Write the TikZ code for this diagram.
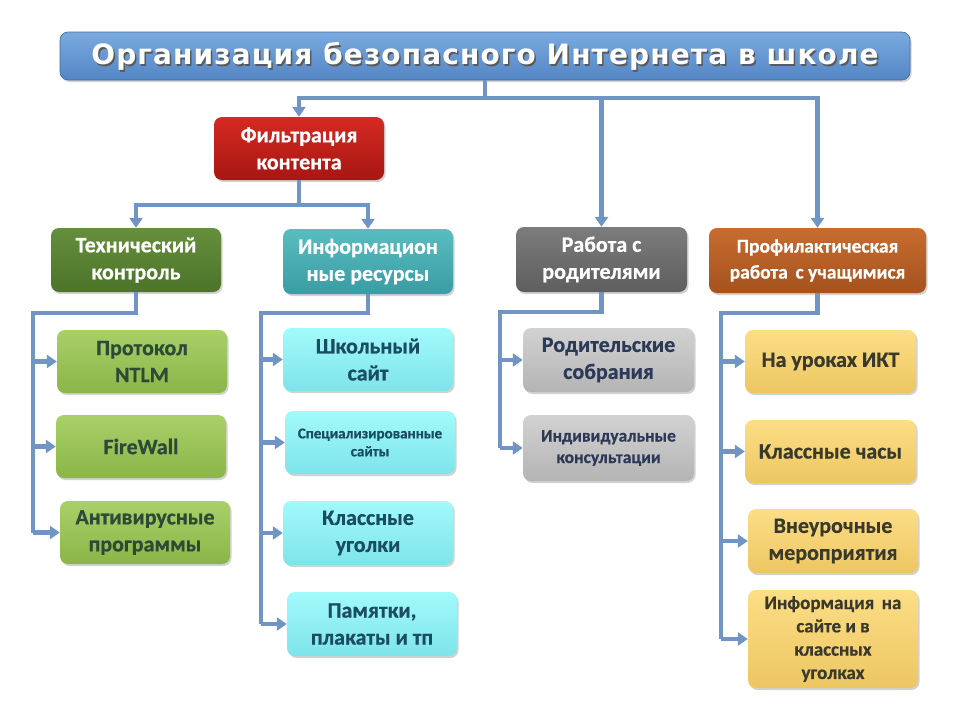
\documentclass[tikz,border=0pt]{standalone}
\usepackage{fontspec}
\setmainfont{Carlito}[BoldFeatures={FakeBold=0.6}]
\newfontfamily\titlefont{DejaVu Sans}[LetterSpace=4]
\usetikzlibrary{arrows.meta,shadows}
\definecolor{lineblue}{HTML}{7094C4}
\definecolor{titletop}{HTML}{7BAAE0}
\definecolor{titlebot}{HTML}{5486C4}
\definecolor{redtop}{HTML}{D42A22}
\definecolor{redbot}{HTML}{A81612}
\definecolor{gtop}{HTML}{658F3C}
\definecolor{gbot}{HTML}{4C742A}
\definecolor{ttop}{HTML}{58BDC0}
\definecolor{tbot}{HTML}{3A9CA4}
\definecolor{grtop}{HTML}{7C7C7C}
\definecolor{grbot}{HTML}{5E5E5E}
\definecolor{otop}{HTML}{C86C30}
\definecolor{obot}{HTML}{A5521E}
\definecolor{lgtop}{HTML}{A8D068}
\definecolor{lgbot}{HTML}{8BB548}
\definecolor{lctop}{HTML}{A2FAFA}
\definecolor{lcbot}{HTML}{7EE4EA}
\definecolor{lytop}{HTML}{FCDE86}
\definecolor{lybot}{HTML}{EDC662}
\definecolor{lgrtop}{HTML}{D2D2D2}
\definecolor{lgrbot}{HTML}{B4B4B4}
\definecolor{tgreen}{HTML}{2C4A38}
\definecolor{tteal}{HTML}{1A4C62}
\definecolor{tgray}{HTML}{2C3A58}
\definecolor{tyel}{HTML}{3A3A2C}
\tikzset{
  conn/.style={draw=lineblue, line width=4.5pt},
  arr/.style={conn, -{Triangle[length=10pt,width=13pt]}},
  box/.style={rounded corners=8pt, align=center, inner sep=2pt,
    font=\bfseries, shading angle=0,
    drop shadow={opacity=0.35, shadow xshift=1.5pt, shadow yshift=-2pt}},
  hbox/.style={box, text=white, font=\bfseries\fontsize{22}{27}\selectfont},
  cbox/.style={box, font=\bfseries\fontsize{22}{27}\selectfont},
  greenc/.style={cbox, bottom color=lgbot, top color=lgtop, text=tgreen},
  cyanc/.style={cbox, bottom color=lcbot, top color=lctop, text=tteal},
  grayc/.style={cbox, bottom color=lgrbot, top color=lgrtop, text=tgray},
  yelc/.style={cbox, bottom color=lybot, top color=lytop, text=tyel},
}
\begin{document}
\begin{tikzpicture}[x=1pt,y=-1pt]
\useasboundingbox[fill=white] (0,0) rectangle (960,720);
% title
\node[box, bottom color=titlebot, top color=titletop, draw=titlebot!80!black, line width=0.6pt,
  minimum width=850, minimum height=48] (title) at (485,56) {};
\node[text=black!65, font=\titlefont\bfseries\fontsize{28}{32}\selectfont] (titleshadow) at (486.5,58) {Организация безопасного Интернета в школе};
\node[text=white, font=\titlefont\bfseries\fontsize{28}{32}\selectfont] (titletext) at (485,56.5) {Организация безопасного Интернета в школе};
% level 1
\node[hbox, bottom color=redbot, top color=redtop, minimum width=170, minimum height=63] (filt) at (299,148.5) {Фильтрация\\контента};
\node[hbox, bottom color=grbot, top color=grtop, minimum width=171, minimum height=65] (par) at (601.5,259.5) {Работа с\\родителями};
\node[hbox, bottom color=obot, top color=otop, minimum width=217, minimum height=65, font=\bfseries\fontsize{19.5}{26}\selectfont] (prof) at (817.5,260.5) {Профилактическая\\работа\, с учащимися};
% level 2
\node[hbox, bottom color=gbot, top color=gtop, minimum width=170, minimum height=64] (tech) at (136,260) {Технический\\контроль};
\node[hbox, bottom color=tbot, top color=ttop, minimum width=170, minimum height=65] (info) at (368,261.5) {Информацион\\ные ресурсы};
% children: tech
\node[greenc, minimum width=170, minimum height=63] (t1) at (142,361.5) {Протокол\\NTLM};
\node[greenc, minimum width=170, minimum height=63] (t2) at (141,446.5) {FireWall};
\node[greenc, minimum width=170, minimum height=63] (t3) at (145,532.5) {Антивирусные\\программы};
% children: info
\node[cyanc, minimum width=170, minimum height=63] (i1) at (368,359.5) {Школьный\\сайт};
\node[cyanc, minimum width=170, minimum height=63, font=\bfseries\fontsize{15}{18}\selectfont] (i2) at (370,442.5) {Специализированные\\сайты};
\node[cyanc, minimum width=170, minimum height=64] (i3) at (368,533) {Классные\\уголки};
\node[cyanc, minimum width=170, minimum height=64] (i4) at (372,624) {Памятки,\\плакаты и тп};
% children: parents
\node[grayc, minimum width=171, minimum height=64] (p1) at (608.5,360) {Родительские\\собрания};
\node[grayc, minimum width=171, minimum height=66, font=\bfseries\fontsize{17.5}{21.5}\selectfont] (p2) at (608.5,448) {Индивидуальные\\консультации};
% children: prof
\node[yelc, minimum width=171, minimum height=63] (r1) at (830.5,361.5) {На уроках ИКТ};
\node[yelc, minimum width=171, minimum height=63] (r2) at (830.5,451.5) {Классные часы};
\node[yelc, minimum width=170, minimum height=64] (r3) at (833,541) {Внеурочные\\мероприятия};
\node[yelc, minimum width=170, minimum height=98, font=\bfseries\fontsize{19}{23.3}\selectfont] (r4) at (833,639) {Информация\, на\\сайте и в\\классных\\уголках};
% connectors level 0 -> 1
\coordinate (bus0) at (0,98);
\draw[conn] (title.south) -- (title.south|-bus0);
\draw[conn, line cap=rect] (filt.north|-bus0) -- (prof.north|-bus0);
\draw[arr] (filt.north|-bus0) -- (filt.north);
\draw[arr] (par.north|-bus0) -- (par.north);
\draw[arr] (prof.north|-bus0) -- (prof.north);
% filt -> tech, info
\coordinate (bus1) at (0,205);
\draw[conn] (filt.south) -- (filt.south|-bus1);
\draw[conn, line cap=rect] (tech.north|-bus1) -- (info.north|-bus1);
\draw[arr] (tech.north|-bus1) -- (tech.north);
\draw[arr] (info.north|-bus1) -- (info.north);
% tech children
\coordinate (tb) at (33,313);
\draw[conn, line join=miter] (tech.south) |- (tb) -- (tb|-t3.west);
\draw[arr] (tb|-t1.west) -- (t1.west);
\draw[arr] (tb|-t2.west) -- (t2.west);
\draw[arr] (tb|-t3.west) -- (t3.west);
% info children
\coordinate (ib) at (261,313);
\draw[conn, line join=miter] (info.south) |- (ib) -- (ib|-i4.west);
\draw[arr] (ib|-i1.west) -- (i1.west);
\draw[arr] (ib|-i2.west) -- (i2.west);
\draw[arr] (ib|-i3.west) -- (i3.west);
\draw[arr] (ib|-i4.west) -- (i4.west);
% parents children
\coordinate (pb) at (500,312);
\draw[conn, line join=miter] (par.south) |- (pb) -- (pb|-p2.west);
\draw[arr] (pb|-p1.west) -- (p1.west);
\draw[arr] (pb|-p2.west) -- (p2.west);
% prof children
\coordinate (rb) at (721,313);
\draw[conn, line join=miter] (prof.south) |- (rb) -- (rb|-r4.west);
\draw[arr] (rb|-r1.west) -- (r1.west);
\draw[arr] (rb|-r2.west) -- (r2.west);
\draw[arr] (rb|-r3.west) -- (r3.west);
\draw[arr] (rb|-r4.west) -- (r4.west);
\end{tikzpicture}
\end{document}
